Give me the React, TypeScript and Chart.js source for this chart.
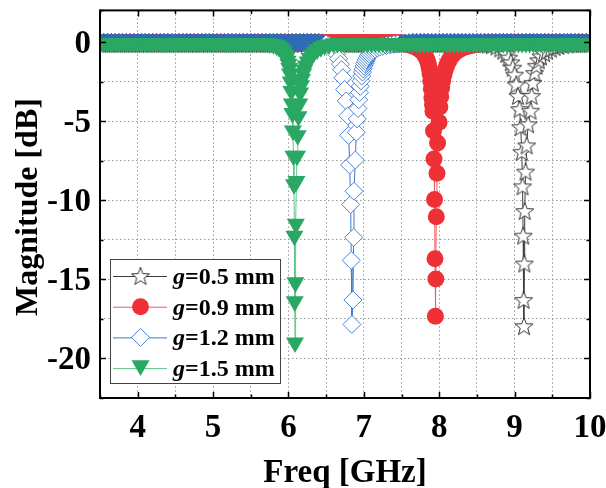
import React, { useEffect, useRef } from "react";
import { Chart, registerables } from "chart.js";

Chart.register(...registerables);

// ---------------- data ----------------
// g = 0.5 mm
const f05 = [
  3.5, 3.55, 3.6, 3.65, 3.7, 3.75, 3.8, 3.85, 3.9, 3.95,
  4, 4.05, 4.1, 4.15, 4.2, 4.25, 4.3, 4.35, 4.4, 4.45,
  4.5, 4.55, 4.6, 4.65, 4.7, 4.75, 4.8, 4.85, 4.9, 4.95,
  5, 5.05, 5.1, 5.15, 5.2, 5.25, 5.3, 5.35, 5.4, 5.45,
  5.5, 5.55, 5.6, 5.65, 5.7, 5.75, 5.8, 5.85, 5.9, 5.95,
  6, 6.05, 6.1, 6.15, 6.2, 6.25, 6.3, 6.35, 6.4, 6.45,
  6.5, 6.55, 6.6, 6.65, 6.7, 6.75, 6.8, 6.85, 6.9, 6.95,
  7, 7.05, 7.1, 7.15, 7.2, 7.25, 7.3, 7.35, 7.4, 7.45,
  7.5, 7.55, 7.6, 7.65, 7.7, 7.75, 7.8, 7.85, 7.9, 7.95,
  8, 8.05, 8.1, 8.15, 8.2, 8.25, 8.3, 8.35, 8.4, 8.45,
  8.5, 8.55,
  8.6, 8.65, 8.7, 8.76, 8.81, 8.85, 8.89, 8.92, 8.95, 8.975,
  9, 9.021, 9.044, 9.066, 9.08, 9.095, 9.105, 9.113, 9.119, 9.124,
  9.129, 9.134, 9.145, 9.16, 9.18, 9.211, 9.225, 9.242, 9.264, 9.29,
  9.32, 9.35, 9.39, 9.43, 9.48, 9.53, 9.58, 9.64, 9.7, 9.75,
  9.8, 9.85, 9.9, 9.95, 10,
];
const m05 = [
  -0.1, -0.1, -0.1, -0.1, -0.1, -0.1, -0.1, -0.1, -0.1, -0.1,
  -0.1, -0.1, -0.1, -0.1, -0.1, -0.1, -0.1, -0.1, -0.1, -0.1,
  -0.1, -0.1, -0.1, -0.1, -0.1, -0.1, -0.1, -0.1, -0.1, -0.1,
  -0.1, -0.1, -0.1, -0.1, -0.1, -0.1, -0.1, -0.1, -0.1, -0.1,
  -0.1, -0.1, -0.1, -0.1, -0.1, -0.1, -0.1, -0.1, -0.1, -0.1,
  -0.1, -0.1, -0.1, -0.1, -0.1, -0.1, -0.1, -0.1, -0.1, -0.1,
  -0.1, -0.1, -0.1, -0.1, -0.1, -0.1, -0.1, -0.1, -0.1, -0.1,
  -0.1, -0.1, -0.1, -0.1, -0.1, -0.1, -0.1, -0.1, -0.1, -0.1,
  -0.1, -0.1, -0.1, -0.1, -0.1, -0.1, -0.1, -0.1, -0.1, -0.1,
  -0.1, -0.1, -0.1, -0.1, -0.1, -0.1, -0.1, -0.1, -0.1, -0.1,
  -0.1, -0.1,
  -0.12, -0.15, -0.2, -0.28, -0.4, -0.55, -0.75, -0.98, -1.28, -1.62,
  -2.06, -2.68, -3.4, -4.24, -5.38, -6.94, -9.12, -12.24, -16.3, -17.96,
  -14.0, -10.68, -8.19, -6.53, -5.2, -4.34, -3.4, -2.58, -1.95, -1.5,
  -1.15, -0.9, -0.7, -0.55, -0.42, -0.32, -0.25, -0.19, -0.15, -0.12,
  -0.1, -0.1, -0.1, -0.1, -0.1,
];

// g = 0.9 mm
const f09 = [
  3.5, 3.55, 3.6, 3.65, 3.7, 3.75, 3.8, 3.85, 3.9, 3.95,
  4, 4.05, 4.1, 4.15, 4.2, 4.25, 4.3, 4.35, 4.4, 4.45,
  4.5, 4.55, 4.6, 4.65, 4.7, 4.75, 4.8, 4.85, 4.9, 4.95,
  5, 5.05, 5.1, 5.15, 5.2, 5.25, 5.3, 5.35, 5.4, 5.45,
  5.5, 5.55, 5.6, 5.65, 5.7, 5.75, 5.8, 5.85, 5.9, 5.95,
  6, 6.05, 6.1, 6.15, 6.2, 6.25, 6.3, 6.35, 6.4, 6.45,
  6.5, 6.55, 6.6, 6.65, 6.7, 6.75, 6.8, 6.85, 6.9, 6.95,
  7, 7.05, 7.1, 7.15, 7.2, 7.25, 7.3, 7.35, 7.4, 7.45,
  7.5,
  7.55, 7.6, 7.65, 7.7, 7.74, 7.77, 7.8, 7.82, 7.84, 7.855,
  7.868, 7.878, 7.887, 7.895, 7.903, 7.91, 7.917, 7.924, 7.931, 7.938,
  7.944, 7.949, 7.955, 7.961, 7.97, 7.978, 7.998, 8.008, 8.02, 8.032,
  8.046, 8.062, 8.08, 8.1, 8.125, 8.15, 8.18, 8.21, 8.25, 8.29,
  8.34, 8.39, 8.45, 8.5, 8.55, 8.6,
  8.65, 8.7, 8.75, 8.8, 8.85, 8.9, 8.95, 9, 9.05, 9.1,
  9.15, 9.2, 9.25, 9.3, 9.35, 9.4, 9.45, 9.5, 9.55, 9.6,
  9.65, 9.7, 9.75, 9.8, 9.85, 9.9, 9.95, 10,
];
const m09 = [
  -0.03, -0.03, -0.03, -0.03, -0.03, -0.03, -0.03, -0.03, -0.03, -0.03,
  -0.03, -0.03, -0.03, -0.03, -0.03, -0.03, -0.03, -0.03, -0.03, -0.03,
  -0.03, -0.03, -0.03, -0.03, -0.03, -0.03, -0.03, -0.03, -0.03, -0.03,
  -0.03, -0.03, -0.03, -0.03, -0.03, -0.03, -0.03, -0.03, -0.03, -0.03,
  -0.03, -0.03, -0.03, -0.03, -0.03, -0.03, -0.03, -0.03, -0.03, -0.03,
  -0.03, -0.03, -0.03, -0.03, -0.03, -0.03, -0.03, -0.03, -0.03, -0.03,
  -0.03, -0.03, -0.03, -0.03, -0.03, -0.03, -0.03, -0.03, -0.03, -0.03,
  -0.03, -0.03, -0.03, -0.03, -0.03, -0.03, -0.03, -0.03, -0.03, -0.03,
  -0.05,
  -0.12, -0.18, -0.26, -0.36, -0.48, -0.6, -0.76, -0.92, -1.12, -1.35,
  -1.65, -2.0, -2.45, -2.95, -3.5, -3.95, -4.38, -5.63, -7.4, -9.96,
  -13.7, -17.33, -14.98, -11.05, -8.3, -6.38, -5.07, -4.1, -3.45, -2.9,
  -2.45, -2.08, -1.75, -1.47, -1.22, -1.0, -0.82, -0.66, -0.53, -0.42,
  -0.33, -0.26, -0.2, -0.15, -0.11, -0.07,
  -0.03, -0.03, -0.03, -0.03, -0.03, -0.03, -0.03, -0.03, -0.03, -0.03,
  -0.03, -0.03, -0.03, -0.03, -0.03, -0.03, -0.03, -0.03, -0.03, -0.03,
  -0.03, -0.03, -0.03, -0.03, -0.03, -0.03, -0.03, -0.03,
];

// g = 1.2 mm
const f12 = [
  3.5, 3.55, 3.6, 3.65, 3.7, 3.75, 3.8, 3.85, 3.9, 3.95,
  4, 4.05, 4.1, 4.15, 4.2, 4.25, 4.3, 4.35, 4.4, 4.45,
  4.5, 4.55, 4.6, 4.65, 4.7, 4.75, 4.8, 4.85, 4.9, 4.95,
  5, 5.05, 5.1, 5.15, 5.2, 5.25, 5.3, 5.35, 5.4, 5.45,
  5.5, 5.55, 5.6, 5.65, 5.7, 5.75, 5.8, 5.85, 5.9, 5.95,
  6, 6.05, 6.1, 6.15, 6.2, 6.25, 6.3, 6.35, 6.4,
  6.45, 6.5, 6.54, 6.58, 6.61, 6.64, 6.665, 6.69, 6.705, 6.722,
  6.744, 6.766, 6.788, 6.799, 6.812, 6.825, 6.833, 6.842, 6.855, 6.865,
  6.869, 6.887, 6.9, 6.912, 6.922, 6.932, 6.942, 6.952, 6.962, 6.972,
  6.982, 6.992, 7.002, 7.012, 7.022, 7.032, 7.045, 7.06, 7.075, 7.09,
  7.11, 7.13, 7.15, 7.18, 7.21, 7.25, 7.3, 7.35, 7.4, 7.45,
  7.5, 7.55, 7.6,
  7.65, 7.7, 7.75, 7.8, 7.85, 7.9, 7.95, 8, 8.05, 8.1,
  8.15, 8.2, 8.25, 8.3, 8.35, 8.4, 8.45, 8.5, 8.55, 8.6,
  8.65, 8.7, 8.75, 8.8, 8.85, 8.9, 8.95, 9, 9.05, 9.1,
  9.15, 9.2, 9.25, 9.3, 9.35, 9.4, 9.45, 9.5, 9.55, 9.6,
  9.65, 9.7, 9.75, 9.8, 9.85, 9.9, 9.95, 10,
];
const m12 = [
  -0.02, -0.02, -0.02, -0.02, -0.02, -0.02, -0.02, -0.02, -0.02, -0.02,
  -0.02, -0.02, -0.02, -0.02, -0.02, -0.02, -0.02, -0.02, -0.02, -0.02,
  -0.02, -0.02, -0.02, -0.02, -0.02, -0.02, -0.02, -0.02, -0.02, -0.02,
  -0.02, -0.02, -0.02, -0.02, -0.02, -0.02, -0.02, -0.02, -0.02, -0.02,
  -0.02, -0.02, -0.02, -0.02, -0.02, -0.02, -0.02, -0.02, -0.02, -0.02,
  -0.02, -0.02, -0.02, -0.02, -0.02, -0.02, -0.02, -0.02, -0.02,
  -0.05, -0.12, -0.22, -0.38, -0.55, -0.78, -1.05, -1.4, -1.75, -2.26,
  -3.0, -3.72, -4.66, -5.9, -7.77, -10.27, -13.8, -17.85, -16.3, -12.35,
  -9.43, -7.46, -5.7, -4.86, -4.2, -3.65, -3.2, -2.8, -2.45, -2.15,
  -1.9, -1.7, -1.52, -1.37, -1.24, -1.12, -1.0, -0.88, -0.78, -0.69,
  -0.6, -0.52, -0.45, -0.38, -0.32, -0.27, -0.22, -0.18, -0.14, -0.11,
  -0.08, -0.06, -0.04,
  -0.02, -0.02, -0.02, -0.02, -0.02, -0.02, -0.02, -0.02, -0.02, -0.02,
  -0.02, -0.02, -0.02, -0.02, -0.02, -0.02, -0.02, -0.02, -0.02, -0.02,
  -0.02, -0.02, -0.02, -0.02, -0.02, -0.02, -0.02, -0.02, -0.02, -0.02,
  -0.02, -0.02, -0.02, -0.02, -0.02, -0.02, -0.02, -0.02, -0.02, -0.02,
  -0.02, -0.02, -0.02, -0.02, -0.02, -0.02, -0.02, -0.02,
];

// g = 1.5 mm
const f15 = [
  3.5, 3.55, 3.6, 3.65, 3.7, 3.75, 3.8, 3.85, 3.9, 3.95,
  4, 4.05, 4.1, 4.15, 4.2, 4.25, 4.3, 4.35, 4.4, 4.45,
  4.5, 4.55, 4.6, 4.65, 4.7, 4.75, 4.8, 4.85, 4.9, 4.95,
  5, 5.05, 5.1, 5.15, 5.2, 5.25, 5.3, 5.35, 5.4, 5.45,
  5.5, 5.55, 5.6, 5.65, 5.7,
  5.75, 5.8, 5.84, 5.87, 5.9, 5.92, 5.94, 5.96, 5.975, 5.99,
  6, 6.01, 6.02, 6.03, 6.038, 6.045, 6.052, 6.059, 6.066, 6.073,
  6.079, 6.083, 6.087, 6.092, 6.098, 6.106, 6.114, 6.123, 6.133, 6.144,
  6.155, 6.167, 6.18, 6.195, 6.21, 6.23, 6.255, 6.28, 6.31, 6.34,
  6.38, 6.43, 6.48, 6.54, 6.6, 6.65,
  6.7, 6.75, 6.8, 6.85, 6.9, 6.95, 7, 7.05, 7.1, 7.15,
  7.2, 7.25, 7.3, 7.35, 7.4, 7.45, 7.5, 7.55, 7.6, 7.65,
  7.7, 7.75, 7.8, 7.85, 7.9, 7.95, 8, 8.05, 8.1, 8.15,
  8.2, 8.25, 8.3, 8.35, 8.4, 8.45, 8.5, 8.55, 8.6, 8.65,
  8.7, 8.75, 8.8, 8.85, 8.9, 8.95, 9, 9.05, 9.1, 9.15,
  9.2, 9.25, 9.3, 9.35, 9.4, 9.45, 9.5, 9.55, 9.6, 9.65,
  9.7, 9.75, 9.8, 9.85, 9.9, 9.95, 10,
];
const m15 = [
  -0.07, -0.07, -0.07, -0.07, -0.07, -0.07, -0.07, -0.07, -0.07, -0.07,
  -0.07, -0.07, -0.07, -0.07, -0.07, -0.07, -0.07, -0.07, -0.07, -0.07,
  -0.07, -0.07, -0.07, -0.07, -0.07, -0.07, -0.07, -0.07, -0.07, -0.07,
  -0.07, -0.07, -0.07, -0.07, -0.07, -0.07, -0.07, -0.07, -0.07, -0.07,
  -0.07, -0.07, -0.07, -0.07, -0.07,
  -0.1, -0.15, -0.22, -0.3, -0.4, -0.5, -0.63, -0.8, -0.98, -1.2,
  -1.4, -1.65, -2.0, -2.5, -3.1, -3.9, -4.5, -5.6, -7.2, -9.0,
  -12.25, -16.4, -19.0, -15.2, -11.5, -8.8, -7.2, -5.9, -4.7, -3.9,
  -3.2, -2.75, -2.35, -2.0, -1.75, -1.5, -1.25, -1.02, -0.82, -0.64,
  -0.48, -0.33, -0.22, -0.15, -0.1, -0.08,
  -0.07, -0.07, -0.07, -0.07, -0.07, -0.07, -0.07, -0.07, -0.07, -0.07,
  -0.07, -0.07, -0.07, -0.07, -0.07, -0.07, -0.07, -0.07, -0.07, -0.07,
  -0.07, -0.07, -0.07, -0.07, -0.07, -0.07, -0.07, -0.07, -0.07, -0.07,
  -0.07, -0.07, -0.07, -0.07, -0.07, -0.07, -0.07, -0.07, -0.07, -0.07,
  -0.07, -0.07, -0.07, -0.07, -0.07, -0.07, -0.07, -0.07, -0.07, -0.07,
  -0.07, -0.07, -0.07, -0.07, -0.07, -0.07, -0.07, -0.07, -0.07, -0.07,
  -0.07, -0.07, -0.07, -0.07, -0.07, -0.07, -0.07,
];

const gapLabels = ["0.5", "0.9", "1.2", "1.5"];
const xTickLabels = [4, 5, 6, 7, 8, 9, 10];
const yTickLabels = [0, -5, -10, -15, -20];
const xTitle = "Freq [GHz]";
const yTitle = "Magnitude [dB]";

// ---------------- styles ----------------
const FONT = "'Liberation Serif', 'Times New Roman', serif";
const BLACK_LINE = "#3d3d3d";
const BLACK_MARK = "#333333";
const RED = "#ee3137";
const RED_LINE = "#f05a5e";
const BLUE = "#4a84d4";
const BLUE_FILL = "#2f6bb6";
const BLUE_LINE = "#3f78c8";
const GREEN = "#29a863";
const GREEN_LINE = "#62c68d";

function makeStar(): HTMLCanvasElement {
  const c = document.createElement("canvas");
  c.width = 22;
  c.height = 22;
  const g = c.getContext("2d")!;
  g.beginPath();
  for (let i = 0; i < 10; i++) {
    const r = i % 2 === 0 ? 9.5 : 3.9;
    const a = -Math.PI / 2 + (i * Math.PI) / 5;
    const px = 11 + r * Math.cos(a);
    const py = 11.8 + r * Math.sin(a);
    if (i === 0) g.moveTo(px, py);
    else g.lineTo(px, py);
  }
  g.closePath();
  g.fillStyle = "#ffffff";
  g.fill();
  g.lineWidth = 1;
  g.strokeStyle = BLACK_MARK;
  g.stroke();
  return c;
}

function pts(f: number[], m: number[]) {
  return f.map((v, i) => ({ x: v, y: m[i] }));
}

export default function App() {
  const ref = useRef<HTMLCanvasElement | null>(null);

  useEffect(() => {
    if (!ref.current) return;
    const star = makeStar();

    const decor = {
      id: "decor",
      afterDatasetsDraw(chart: any) {
        const { ctx, chartArea: ca, scales } = chart;
        const sx = scales.x;
        const sy = scales.y;
        ctx.save();
        // frame
        ctx.strokeStyle = "#000";
        ctx.lineWidth = 2;
        ctx.setLineDash([]);
        ctx.strokeRect(ca.left, ca.top, ca.right - ca.left, ca.bottom - ca.top);
        // inward tick marks
        ctx.lineWidth = 1.5;
        ctx.beginPath();
        sx.ticks.forEach((t: any) => {
          const px = Math.round(sx.getPixelForValue(t.value)) + 0.5;
          const len = Math.abs(t.value - Math.round(t.value)) < 1e-6 ? 6 : 3.5;
          ctx.moveTo(px, ca.bottom);
          ctx.lineTo(px, ca.bottom - len);
          ctx.moveTo(px, ca.top);
          ctx.lineTo(px, ca.top + len);
        });
        sy.ticks.forEach((t: any) => {
          const py = Math.round(sy.getPixelForValue(t.value)) + 0.5;
          const len = Math.abs(t.value / 5 - Math.round(t.value / 5)) < 1e-6 ? 6 : 3.5;
          ctx.moveTo(ca.left, py);
          ctx.lineTo(ca.left + len, py);
          ctx.moveTo(ca.right, py);
          ctx.lineTo(ca.right - len, py);
        });
        ctx.stroke();

        // tick labels
        ctx.fillStyle = "#000";
        ctx.font = `bold 33px ${FONT}`;
        ctx.textAlign = "center";
        ctx.textBaseline = "alphabetic";
        xTickLabels.forEach((v) => {
          ctx.fillText(String(v), sx.getPixelForValue(v), 437);
        });
        ctx.textAlign = "right";
        yTickLabels.forEach((v) => {
          ctx.fillText(String(v), ca.left - 9, sy.getPixelForValue(v) + 11);
        });

        // axis titles
        ctx.font = `bold 33px ${FONT}`;
        ctx.textAlign = "center";
        ctx.fillText(xTitle, (ca.left + ca.right) / 2, 482);
        ctx.save();
        ctx.translate(37, 207);
        ctx.rotate(-Math.PI / 2);
        ctx.font = `bold 32px ${FONT}`;
        ctx.fillText(yTitle, 0, 0);
        ctx.restore();

        // legend
        const lx = 110, ly = 259, lw = 170, lh = 124;
        ctx.fillStyle = "#fff";
        ctx.fillRect(lx, ly, lw, lh);
        ctx.strokeStyle = "#444";
        ctx.lineWidth = 1;
        ctx.strokeRect(lx + 0.5, ly + 0.5, lw, lh);
        const lineCols = [BLACK_LINE, RED_LINE, BLUE_LINE, GREEN_LINE];
        gapLabels.forEach((gap, i) => {
          const ry = 276 + i * 30.7;
          ctx.strokeStyle = lineCols[i];
          ctx.lineWidth = 1;
          ctx.beginPath();
          ctx.moveTo(113, ry + 0.5);
          ctx.lineTo(167, ry + 0.5);
          ctx.stroke();
          const mx = 140.5;
          if (i === 0) {
            ctx.drawImage(star, mx - 11, ry - 11);
          } else if (i === 1) {
            ctx.beginPath();
            ctx.arc(mx, ry, 8.5, 0, Math.PI * 2);
            ctx.fillStyle = RED;
            ctx.fill();
          } else if (i === 2) {
            ctx.beginPath();
            ctx.moveTo(mx, ry - 9);
            ctx.lineTo(mx + 9, ry);
            ctx.lineTo(mx, ry + 9);
            ctx.lineTo(mx - 9, ry);
            ctx.closePath();
            ctx.fillStyle = "#fff";
            ctx.fill();
            ctx.strokeStyle = BLUE;
            ctx.stroke();
          } else {
            const r = 10.4;
            ctx.beginPath();
            ctx.moveTo(mx, ry + r * 0.75);
            ctx.lineTo(mx + r * 0.866, ry - r * 0.75);
            ctx.lineTo(mx - r * 0.866, ry - r * 0.75);
            ctx.closePath();
            ctx.fillStyle = GREEN;
            ctx.fill();
          }
          ctx.fillStyle = "#000";
          ctx.textAlign = "left";
          ctx.font = `italic bold 24px ${FONT}`;
          const tx = 173;
          ctx.fillText("g", tx, ry + 8);
          const gw = ctx.measureText("g").width;
          ctx.font = `bold 24px ${FONT}`;
          ctx.fillText(`=${gap} mm`, tx + gw, ry + 8);
        });
        ctx.restore();
      },
    };

    const chart = new Chart(ref.current, {
      type: "line",
      data: {
        datasets: [
          {
            label: "g=0.5 mm",
            data: pts(f05, m05),
            borderColor: BLACK_LINE,
            borderWidth: 1,
            pointStyle: star as any,
            pointRadius: 9,
            order: 3,
          },
          {
            label: "g=0.9 mm",
            data: pts(f09, m09),
            borderColor: RED_LINE,
            borderWidth: 1,
            pointStyle: "circle",
            pointRadius: 8.5,
            pointBackgroundColor: RED,
            pointBorderColor: RED,
            pointBorderWidth: 0,
            order: 2,
          },
          {
            label: "g=1.2 mm",
            data: pts(f12, m12),
            borderColor: BLUE_LINE,
            borderWidth: 1,
            pointStyle: "rectRot",
            pointRadius: 9,
            pointBackgroundColor: (c: any) =>
              c.raw && c.raw.y > -0.1 ? BLUE_FILL : "#ffffff",
            pointBorderColor: (c: any) =>
              c.raw && c.raw.y > -0.1 ? BLUE_FILL : BLUE,
            pointBorderWidth: 1,
            order: 1,
          },
          {
            label: "g=1.5 mm",
            data: pts(f15, m15),
            borderColor: GREEN_LINE,
            borderWidth: 1,
            pointStyle: "triangle",
            pointRotation: 180,
            pointRadius: 10.4,
            pointBackgroundColor: GREEN,
            pointBorderColor: GREEN,
            pointBorderWidth: 0,
            order: 0,
          },
        ],
      },
      options: {
        responsive: false,
        animation: false,
        events: [],
        layout: { padding: { left: 100, right: 16, top: 5, bottom: 90 } },
        plugins: { legend: { display: false }, tooltip: { enabled: false } },
        scales: {
          x: {
            type: "linear",
            min: 3.5,
            max: 10,
            ticks: { stepSize: 0.5, display: false },
            grid: { color: "#9a9a9a", lineWidth: 1, drawTicks: false },
            border: { display: false, dash: [1.5, 2.5] },
          },
          y: {
            type: "linear",
            min: -22.5,
            max: 2,
            ticks: { stepSize: 2.5, display: false },
            grid: { color: "#9a9a9a", lineWidth: 1, drawTicks: false },
            border: { display: false, dash: [1.5, 2.5] },
          },
        },
      },
      plugins: [decor],
    } as any);

    return () => chart.destroy();
  }, []);

  return (
    <div style={{ position: "fixed", left: 0, top: 0, width: 606, height: 488, background: "#fff" }}>
      <canvas ref={ref} width={606} height={488} style={{ display: "block" }} />
    </div>
  );
}
